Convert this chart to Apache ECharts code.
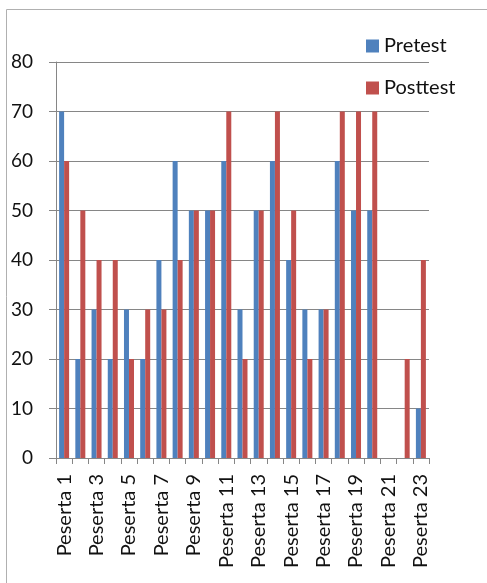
<!DOCTYPE html>
<html>
<head>
<meta charset="utf-8">
<script src="https://cdn.jsdelivr.net/npm/echarts@6/dist/echarts.min.js"></script>
<style>
  html, body { margin: 0; padding: 0; background: #fff; }
  #chart { width: 487px; height: 583px; }
</style>
</head>
<body>
<div id="chart"></div>
<script>
// categories
const categories = Array.from({ length: 23 }, (_, i) => 'Peserta ' + (i + 1))

// series values
const pretest = [70, 20, 30, 20, 30, 20, 40, 60, 50, 50, 60, 30, 50, 60, 40, 30, 30, 60, 50, 50, 0, 0, 10]
const posttest = [60, 50, 40, 40, 20, 30, 30, 40, 50, 50, 70, 20, 50, 70, 50, 20, 30, 70, 70, 70, 0, 20, 40]

const seriesNames = ['Pretest', 'Posttest']
const yTicks = { min: 0, max: 80, interval: 10 }

const FONT = 'Lato'
const axisGrey = '#868686'

const chart = echarts.init(document.getElementById('chart'))

const option = {
  animation: false,
  textStyle: { fontFamily: FONT },
  graphic: [
    {
      type: 'rect',
      shape: { x: 6.5, y: 9.5, width: 600, height: 700 },
      style: { fill: 'none', stroke: '#b0b0b0', lineWidth: 1 },
      silent: true,
    },
  ],
  legend: {
    orient: 'vertical',
    left: 361,
    top: 31,
    itemWidth: 13,
    itemHeight: 13,
    itemGap: 22,
    icon: 'rect',
    textStyle: { fontFamily: FONT, fontSize: 20, color: '#111', padding: [0, 0, 0, 0] },
    data: seriesNames,
  },
  grid: {
    left: 56,
    right: 58,
    top: 62,
    bottom: 125,
    containLabel: false,
  },
  xAxis: {
    type: 'category',
    data: categories,
    boundaryGap: true,
    axisLine: { lineStyle: { color: axisGrey, width: 1 } },
    axisTick: { show: true, interval: 0, length: 6, lineStyle: { color: axisGrey } },
    axisLabel: {
      interval: 1,
      rotate: 90,
      margin: 16,
      fontFamily: FONT,
      fontSize: 20,
      color: '#111',
    },
  },
  yAxis: {
    type: 'value',
    min: yTicks.min,
    max: yTicks.max,
    interval: yTicks.interval,
    axisLine: { show: true, lineStyle: { color: axisGrey, width: 1 } },
    axisTick: { show: true, length: 7, inside: false, lineStyle: { color: axisGrey } },
    axisLabel: { margin: 23, fontFamily: FONT, fontSize: 19, color: '#111' },
    splitLine: { show: true, lineStyle: { color: axisGrey, width: 1 } },
  },
  series: [
    {
      name: seriesNames[0],
      type: 'bar',
      data: pretest,
      barWidth: 5,
      barGap: '0%',
      itemStyle: { color: '#4F81BD' },
    },
    {
      name: seriesNames[1],
      type: 'bar',
      data: posttest,
      barWidth: 5,
      barGap: '0%',
      itemStyle: { color: '#C0504D' },
    },
  ],
}

chart.setOption(option)
</script>
</body>
</html>
